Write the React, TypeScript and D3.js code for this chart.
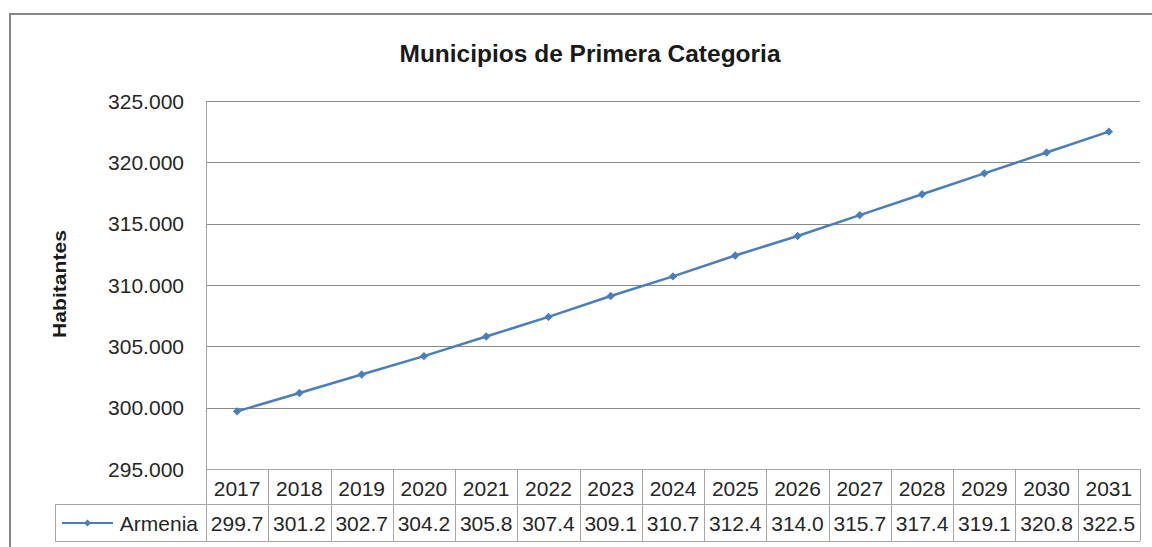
import React from "react";
import * as d3 from "d3";

const years = ["2017","2018","2019","2020","2021","2022","2023","2024","2025","2026","2027","2028","2029","2030","2031"];
const armenia = [299.7,301.2,302.7,304.2,305.8,307.4,309.1,310.7,312.4,314.0,315.7,317.4,319.1,320.8,322.5];
const yTicks = [295000,300000,305000,310000,315000,320000,325000];
const seriesName = "Armenia";
const title = "Municipios de Primera Categoria";
const yTitle = "Habitantes";

const W = 1152, H = 547;
const left = 206, right = 1140, top = 101, bottom = 469;
const rowMid = 504, tableBottom = 541, legendLeft = 55;
const FONT = "'Liberation Sans', Arial, sans-serif";
const TXT = "#262626";
const GRID = "#888888";
const TBL = "#a6a6a6";
const BLUE = "#4a7ebb";

export default function App() {
  const x = d3.scaleBand<string>().domain(years).range([left, right]);
  const y = d3.scaleLinear().domain([295000, 325000]).range([bottom, top]);
  const loc = d3.formatLocale({ thousands: ".", decimal: ",", grouping: [3], currency: ["", ""] });
  const tickFmt = (v: number) => loc.format(",")(v / 1000) + ".000";
  const pts = armenia.map((v, i) => [x(years[i])! + x.bandwidth() / 2, y(v * 1000)] as [number, number]);
  const line = d3.line()(pts) || "";
  const diamond = (cx: number, cy: number, r = 4.2) => `M${cx},${cy - r}L${cx + r},${cy}L${cx},${cy + r}L${cx - r},${cy}Z`;

  return (
    <svg width={W} height={H} style={{ position: "absolute", left: 0, top: 0, display: "block" }}>
      <rect x={0} y={0} width={W} height={H} fill="#fff" />
      <rect x={10} y={14} width={W + 20} height={H + 20} fill="none" stroke="#868686" strokeWidth={2} />
      <text x={590} y={62} textAnchor="middle" fontFamily={FONT} fontWeight="bold" fontSize={23.5} fill="#1a1a1a" textLength={381} lengthAdjust="spacingAndGlyphs">{title}</text>
      <text transform={`translate(66,284) rotate(-90)`} textAnchor="middle" fontFamily={FONT} fontWeight="bold" fontSize={18.5} fill="#1a1a1a" textLength={108} lengthAdjust="spacingAndGlyphs">{yTitle}</text>
      {yTicks.map(t => (
        <g key={t}>
          {t > 295000 && <line x1={left} x2={right} y1={Math.round(y(t)) + 0.5} y2={Math.round(y(t)) + 0.5} stroke={GRID} strokeWidth={1} />}
          <text x={184} y={y(t) + 7.5} textAnchor="end" fontFamily={FONT} fontSize={21} fill={TXT}>{tickFmt(t)}</text>
        </g>
      ))}
      <line x1={left + 0.5} x2={left + 0.5} y1={top} y2={tableBottom} stroke={TBL} strokeWidth={1} />
      <line x1={left} x2={right} y1={bottom + 0.5} y2={bottom + 0.5} stroke={TBL} />
      <line x1={legendLeft} x2={right} y1={rowMid + 0.5} y2={rowMid + 0.5} stroke={TBL} />
      <line x1={legendLeft} x2={right} y1={tableBottom + 0.5} y2={tableBottom + 0.5} stroke={TBL} />
      <line x1={legendLeft + 0.5} x2={legendLeft + 0.5} y1={rowMid} y2={tableBottom} stroke={TBL} />
      {years.map((yr, i) => (
        <g key={yr}>
          <line x1={Math.round(x(yr)! + x.bandwidth()) + 0.5} x2={Math.round(x(yr)! + x.bandwidth()) + 0.5} y1={bottom} y2={tableBottom} stroke={TBL} />
          <text x={x(yr)! + x.bandwidth() / 2} y={bottom + 27} textAnchor="middle" fontFamily={FONT} fontSize={21} fill={TXT}>{yr}</text>
          <text x={x(yr)! + x.bandwidth() / 2} y={rowMid + 27} textAnchor="middle" fontFamily={FONT} fontSize={21} fill={TXT}>{armenia[i].toFixed(1)}</text>
        </g>
      ))}
      <line x1={62} x2={113} y1={523} y2={523} stroke={BLUE} strokeWidth={2.2} />
      <path d={diamond(87.5, 523, 3.6)} fill={BLUE} />
      <text x={198} y={rowMid + 27} textAnchor="end" fontFamily={FONT} fontSize={21} fill={TXT}>{seriesName}</text>
      <path d={line} fill="none" stroke={BLUE} strokeWidth={2.5} strokeLinejoin="round" />
      {pts.map((p, i) => <path key={i} d={diamond(p[0], p[1])} fill={BLUE} />)}
    </svg>
  );
}
